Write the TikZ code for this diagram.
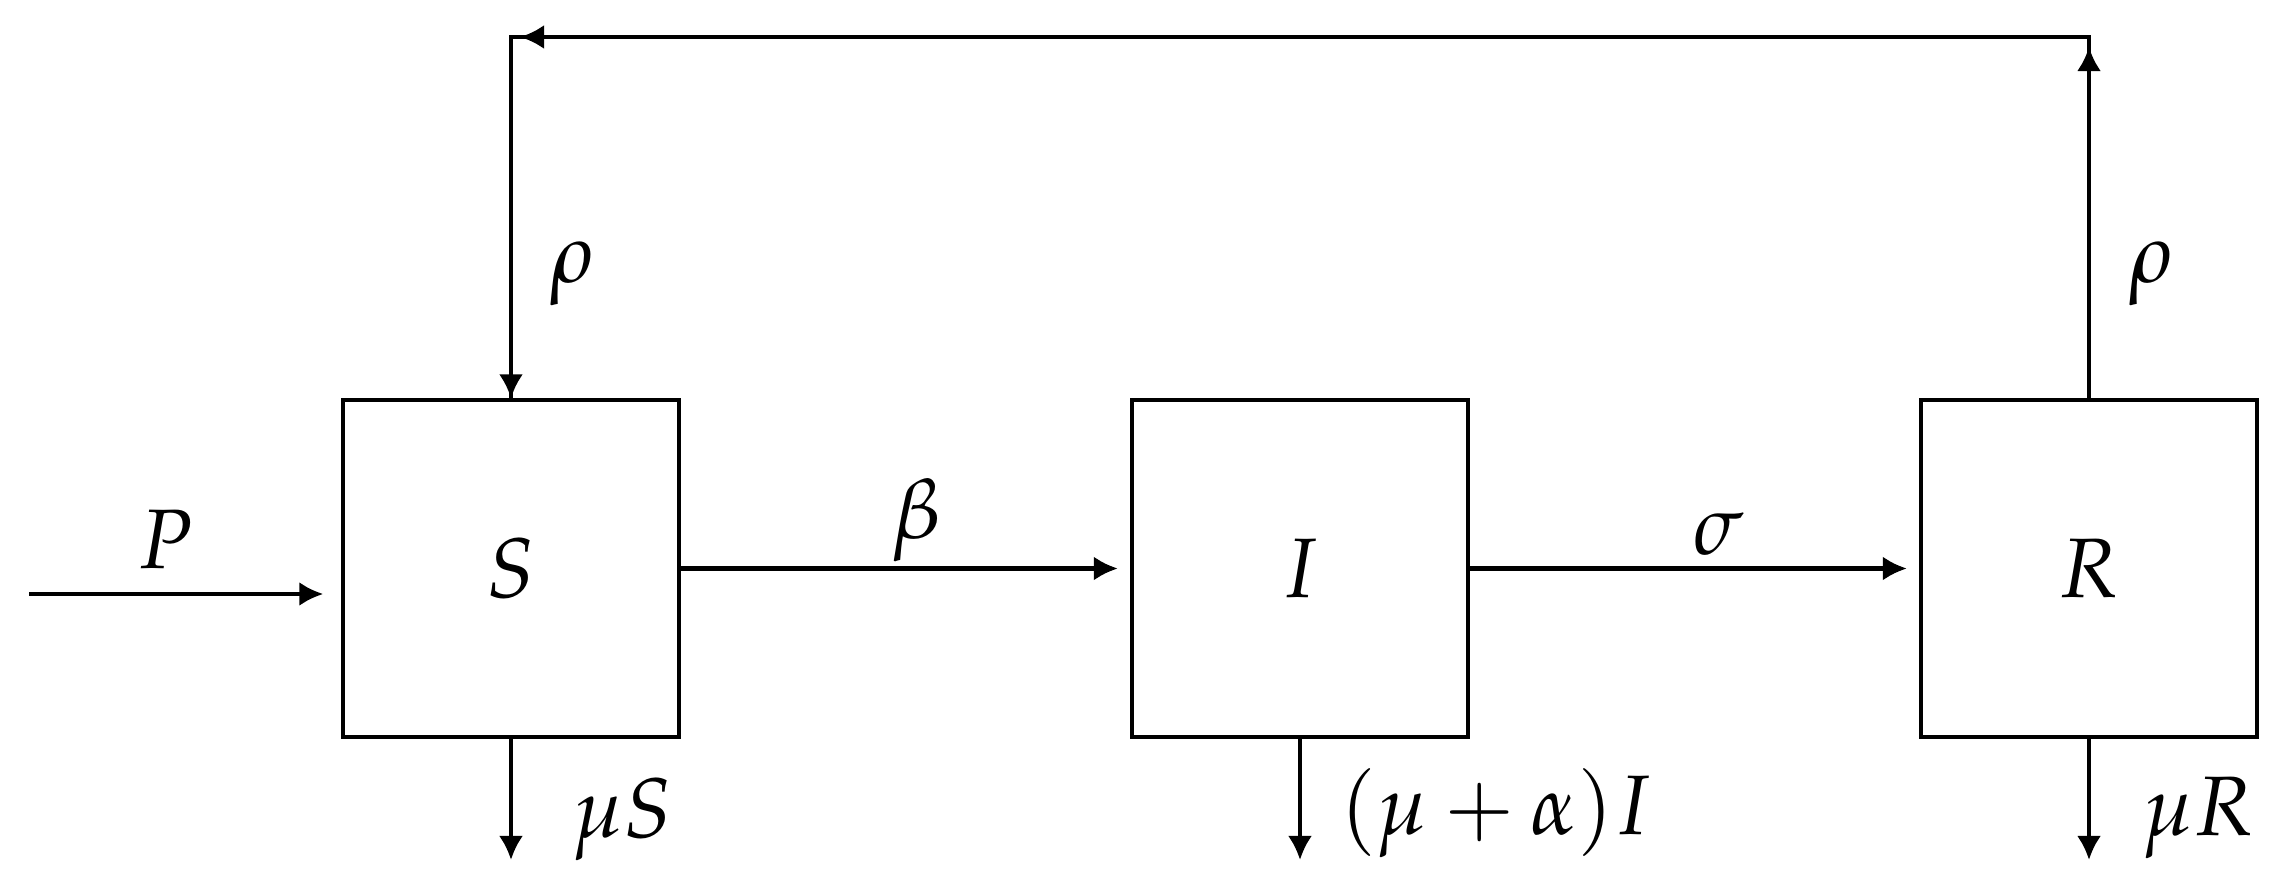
\documentclass[tikz,border=0pt]{standalone}
\usepackage{mathpazo}
\usetikzlibrary{arrows.meta}
\begin{document}
\begin{tikzpicture}[x=0.01cm,y=-0.01cm,
  every node/.style={font=\fontsize{24}{28}\selectfont, inner sep=0pt},
  line width=1.15pt,
  compbox/.style={draw, minimum size=3.36cm, inner sep=0pt, line width=1.15pt},
  arr/.style={-{Latex[length=0.24cm,width=0.24cm]}},
  lbl/.style={anchor=base}]
\useasboundingbox (0,0) rectangle (2287,891);
% compartments
\node[compbox] (S) at (511,568.5) {$S$};
\node[compbox] (I) at (1300,568.5) {$I$};
\node[compbox] (R) at (2089,568.5) {$R$};
% helper coordinates
\coordinate (pin) at (29,594);
\coordinate (tl) at (511,37);
\coordinate (tr) at (2089,37);
\coordinate (sd) at (511,860);
\coordinate (id) at (1300,860);
\coordinate (rd) at (2089,860);
% inflow
\draw[arr, shorten >=5pt] (pin) -- (S.west |- pin);
% transitions
\draw[arr, shorten >=0.12cm] (S.east) -- (I.west);
\draw[arr, shorten >=0.12cm] (I.east) -- (R.west);
% loss of immunity loop
\draw (R.north) -- (tr) -- (tl) -- (S.north);
\draw[arr, shorten >=0.1cm] (R.north) -- (tr);
\draw[arr, shorten >=0.09cm] (tr) -- (tl);
\draw[arr] (tl) -- (S.north);
% outflows
\draw[arr] (S.south) -- (sd);
\draw[arr] (I.south) -- (id);
\draw[arr] (R.south) -- (rd);
% labels
\node[lbl] (lP) at (165,568) {$P$};
\node[lbl] (lb) at (916,538) {$\beta$};
\node[lbl] (ls) at (1718,554) {$\sigma$};
\node[lbl] (lr1) at (573,282) {$\rho$};
\node[lbl] (lr2) at (2152,282) {$\rho$};
\node[anchor=base west] (lmS) at (570,837) {$\mu S$};
\node[anchor=base west] (lmI) at (1338,834) {$(\mu+\alpha)I$};
\node[anchor=base west] (lmR) at (2140,835) {$\mu R$};
\end{tikzpicture}
\end{document}
